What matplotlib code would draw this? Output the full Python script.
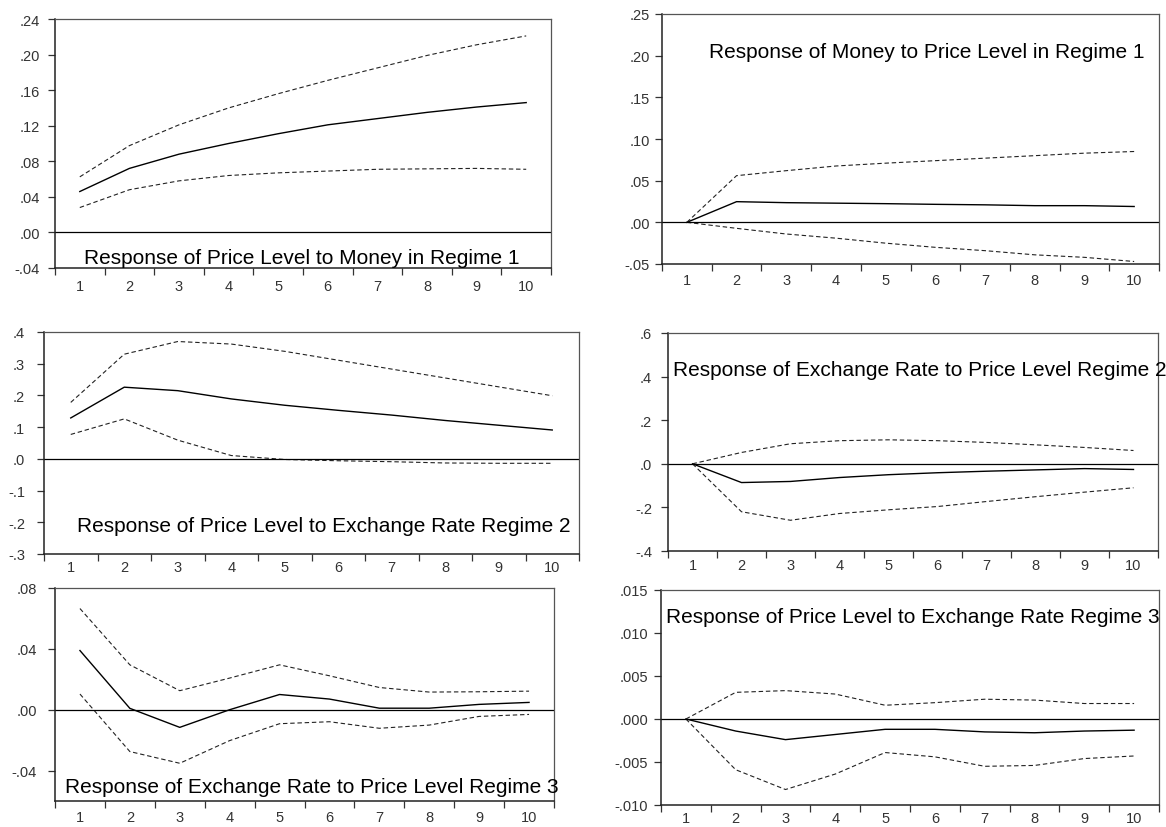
import numpy as np
import matplotlib
matplotlib.use("Agg")
import matplotlib.pyplot as plt
from matplotlib.ticker import FuncFormatter, FixedLocator

plt.rcParams["font.family"] = ["Liberation Sans", "DejaVu Sans"]

W, H = 1166, 828
steps = np.arange(1, 11)

# Response of Price Level to Money in Regime 1
p1_mid = [0.046, 0.072, 0.088, 0.100, 0.111, 0.121, 0.128, 0.135, 0.141, 0.146]
p1_hi = [0.0625, 0.0976, 0.121, 0.140, 0.156, 0.171, 0.185, 0.199, 0.211, 0.221]
p1_lo = [0.028, 0.048, 0.058, 0.064, 0.067, 0.069, 0.071, 0.0715, 0.072, 0.071]

# Response of Money to Price Level in Regime 1
p2_mid = [0.0, 0.0248, 0.0236, 0.023, 0.0224, 0.0216, 0.021, 0.020, 0.020, 0.019]
p2_hi = [0.0, 0.056, 0.062, 0.0676, 0.071, 0.074, 0.077, 0.080, 0.083, 0.085]
p2_lo = [0.0, -0.0072, -0.014, -0.019, -0.025, -0.030, -0.034, -0.039, -0.042, -0.047]

# Response of Price Level to Exchange Rate Regime 2
p3_mid = [0.129, 0.226, 0.215, 0.189, 0.169, 0.153, 0.138, 0.121, 0.106, 0.091]
p3_hi = [0.178, 0.330, 0.370, 0.362, 0.339, 0.311, 0.283, 0.255, 0.227, 0.199]
p3_lo = [0.077, 0.126, 0.059, 0.0105, -0.002, -0.006, -0.009, -0.013, -0.014, -0.014]

# Response of Exchange Rate to Price Level Regime 2
p4_mid = [0.0, -0.086, -0.081, -0.063, -0.050, -0.041, -0.034, -0.028, -0.022, -0.026]
p4_hi = [0.0, 0.052, 0.092, 0.106, 0.110, 0.106, 0.098, 0.087, 0.075, 0.061]
p4_lo = [0.0, -0.220, -0.259, -0.228, -0.211, -0.196, -0.173, -0.151, -0.130, -0.110]

# Response of Exchange Rate to Price Level Regime 3
p5_mid = [0.0389, 0.0009, -0.0116, 0.0, 0.010, 0.007, 0.001, 0.001, 0.0035, 0.0048]
p5_hi = [0.0665, 0.0295, 0.0125, 0.0208, 0.0295, 0.0223, 0.0146, 0.0116, 0.0118, 0.0122]
p5_lo = [0.0103, -0.0275, -0.0352, -0.0203, -0.0092, -0.0079, -0.0122, -0.0101, -0.0044, -0.0031]

# Response of Price Level to Exchange Rate Regime 3
p6_mid = [0.0, -0.0014, -0.0024, -0.0018, -0.0012, -0.0012, -0.0015, -0.0016, -0.0014, -0.0013]
p6_hi = [0.0, 0.0031, 0.0033, 0.0029, 0.0016, 0.0019, 0.0023, 0.0022, 0.0018, 0.0018]
p6_lo = [0.0, -0.0059, -0.0082, -0.0064, -0.0039, -0.0044, -0.0055, -0.0054, -0.0046, -0.0043]


def no_lead_zero(decimals):
    def fmt(v, pos):
        s = f"{v:.{decimals}f}"
        return s.replace("0.", ".", 1)
    return FuncFormatter(fmt)


panels = [
    # box px (x0, y0, x1, y1), ylim, yticks, decimals, title, title px (x, y), y pad, x pad, series
    ((55, 20, 551, 269), (-0.04, 0.24), np.arange(-0.04, 0.241, 0.04), 2,
     "Response of Price Level to Money in Regime 1", (84, 258), 5.8, 8.2,
     (p1_mid, p1_hi, p1_lo)),
    ((662, 15, 1159, 265), (-0.05, 0.25), np.arange(-0.05, 0.251, 0.05), 2,
     "Response of Money to Price Level in Regime 1", (709, 53), 3.6, 6.8,
     (p2_mid, p2_hi, p2_lo)),
    ((44, 333, 579, 555), (-0.3, 0.4), np.arange(-0.3, 0.41, 0.1), 1,
     "Response of Price Level to Exchange Rate Regime 2", (77, 526), 8.6, 4.6,
     (p3_mid, p3_hi, p3_lo)),
    ((668, 334, 1158, 552), (-0.4, 0.6), np.arange(-0.4, 0.61, 0.2), 1,
     "Response of Exchange Rate to Price Level Regime 2", (673, 371), 6.5, 5.4,
     (p4_mid, p4_hi, p4_lo)),
    ((55, 589, 554, 802), (-0.06, 0.08), np.arange(-0.04, 0.081, 0.04), 2,
     "Response of Exchange Rate to Price Level Regime 3", (65, 788), 8.0, 6.8,
     (p5_mid, p5_hi, p5_lo)),
    ((661, 591, 1159, 806), (-0.010, 0.015), np.arange(-0.010, 0.0151, 0.005), 3,
     "Response of Price Level to Exchange Rate Regime 3", (666, 618), 4.3, 4.6,
     (p6_mid, p6_hi, p6_lo)),
]

fig = plt.figure(figsize=(W / 100, H / 100), dpi=100)

for box, ylim, yticks, dec, title, tpos, ypad, xpad, (mid, hi, lo) in panels:
    x0, y0, x1, y1 = box
    ax = fig.add_axes([x0 / W, 1 - y1 / H, (x1 - x0) / W, (y1 - y0) / H])
    ax.plot(steps, mid, color="black", lw=1.0)
    ax.plot(steps, hi, color="#222222", lw=0.8, ls=(0, (4, 2.5)))
    ax.plot(steps, lo, color="#222222", lw=0.8, ls=(0, (4, 2.5)))
    ax.axhline(0, color="black", lw=0.9)
    ax.set_xlim(0.5, 10.5)
    ax.set_ylim(*ylim)

    # EViews style: ticks between periods, labels at periods
    ax.xaxis.set_major_locator(FixedLocator(np.arange(0.5, 10.6, 1)))
    ax.xaxis.set_major_formatter(FuncFormatter(lambda v, p: ""))
    ax.xaxis.set_minor_locator(FixedLocator(steps))
    ax.xaxis.set_minor_formatter(FuncFormatter(lambda v, p: f"{int(round(v))}"))
    ax.tick_params(axis="x", which="major", direction="out", length=5, width=0.9, color="#333333")
    ax.tick_params(axis="x", which="minor", length=0, pad=xpad, labelsize=10.5, labelcolor="#333333")

    ax.set_yticks(yticks)
    ax.yaxis.set_major_formatter(no_lead_zero(dec))
    ax.tick_params(axis="y", direction="out", length=5, width=0.9, pad=ypad,
                   labelsize=10.5, labelcolor="#333333", color="#333333")

    for side in ["left", "bottom"]:
        ax.spines[side].set_linewidth(1.1)
        ax.spines[side].set_color("#222222")
    for side in ["top", "right"]:
        ax.spines[side].set_linewidth(0.9)
        ax.spines[side].set_color("#555555")

    tx, ty = tpos
    fig.text(tx / W, 1 - ty / H, title, fontsize=15, ha="left", va="center", color="black")

fig.savefig("out.png", dpi=100)
